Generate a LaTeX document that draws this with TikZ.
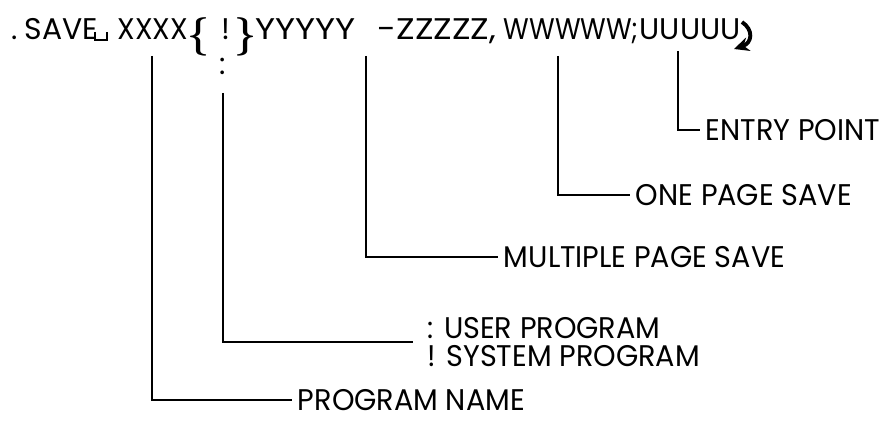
\documentclass[tikz,border=0pt]{standalone}
\usepackage{fontspec}
\setmainfont{Poppins}
\newfontfamily\lblfont{Poppins}[FakeStretch=0.96]
\usetikzlibrary{arrows.meta}
\begin{document}
\begin{tikzpicture}[
		hdr/.style={anchor=base west, inner sep=0pt, font=\fontsize{8.5}{8}\selectfont},
		brc/.style={anchor=center, inner sep=0pt, font=\fontsize{11}{11}\selectfont\boldmath},
		lbl/.style={anchor=west, inner sep=1.5pt, font=\lblfont\fontsize{8.5}{8}\selectfont}
	]
	\useasboundingbox (0,0) rectangle (8.88,4.36);

	% command line
	\node [hdr] (dot) at (0.11, 3.96) {.};
	\node [hdr] (save) at (0.24, 3.96) {SAVE};
	\draw [semithick] (0.95, 4.04) -- (0.95, 3.96) -- (1.07, 3.96) -- (1.07, 4.04);
	\node [hdr] (xxxx) at (1.17, 3.96) {\scalebox{0.95}[1]{XXXX}};
	\node [brc] (lbr) at (1.99, 3.995) {$\big\{$};
	\node [hdr] (sys) at (2.21, 3.96) {!};
	\node [brc, font=\fontsize{8.5}{8}\selectfont] (usr) at (2.23, 3.70) {:};
	\node [brc] (rbr) at (2.46, 3.995) {$\big\}$};
	\node [hdr] (yyyy) at (2.55, 3.96) {\scalebox{1.15}[1]{YYYYY}};
	\node [hdr] (zzzz) at (3.77, 3.96) {\scalebox{1.15}[1]{-ZZZZZ,}};
	\node [hdr] (wwww) at (5.03, 3.96) {\scalebox{0.88}[1]{WWWWW;}};
	\node [hdr] (uuuu) at (6.39, 3.96) {UUUUU};
	\draw [line width=1.1pt, -{Stealth[length=0.15cm, width=0.14cm]}] (7.42, 4.14) .. controls (7.54, 4.06) and (7.52, 3.93) .. (7.34, 3.87);

	% labels
	\node [lbl] (pname) at (2.92, 0.36) {PROGRAM NAME};
	\node [lbl, align=left, inner xsep=4pt] (prog) at (4.13, 0.94) {: USER PROGRAM\\! SYSTEM PROGRAM};
	\node [lbl] (multi) at (4.98, 1.79) {MULTIPLE PAGE SAVE};
	\node [lbl] (onepg) at (6.30, 2.41) {ONE PAGE SAVE};
	\node [lbl] (entry) at (7.00, 3.06) {ENTRY POINT};

	\coordinate (t1) at (1.52, 3.80);
	\coordinate (t2) at (2.23, 3.43);
	\coordinate (t3) at (3.66, 3.80);
	\coordinate (t4) at (5.58, 3.80);
	\coordinate (t5) at (6.78, 3.85);

	\draw [semithick] (t1) |- (pname.west);
	\draw [semithick] (t2) |- (prog.west);
	\draw [semithick] (t3) |- (multi.west);
	\draw [semithick] (t4) |- (onepg.west);
	\draw [semithick] (t5) |- (entry.west);
\end{tikzpicture}
\end{document}
